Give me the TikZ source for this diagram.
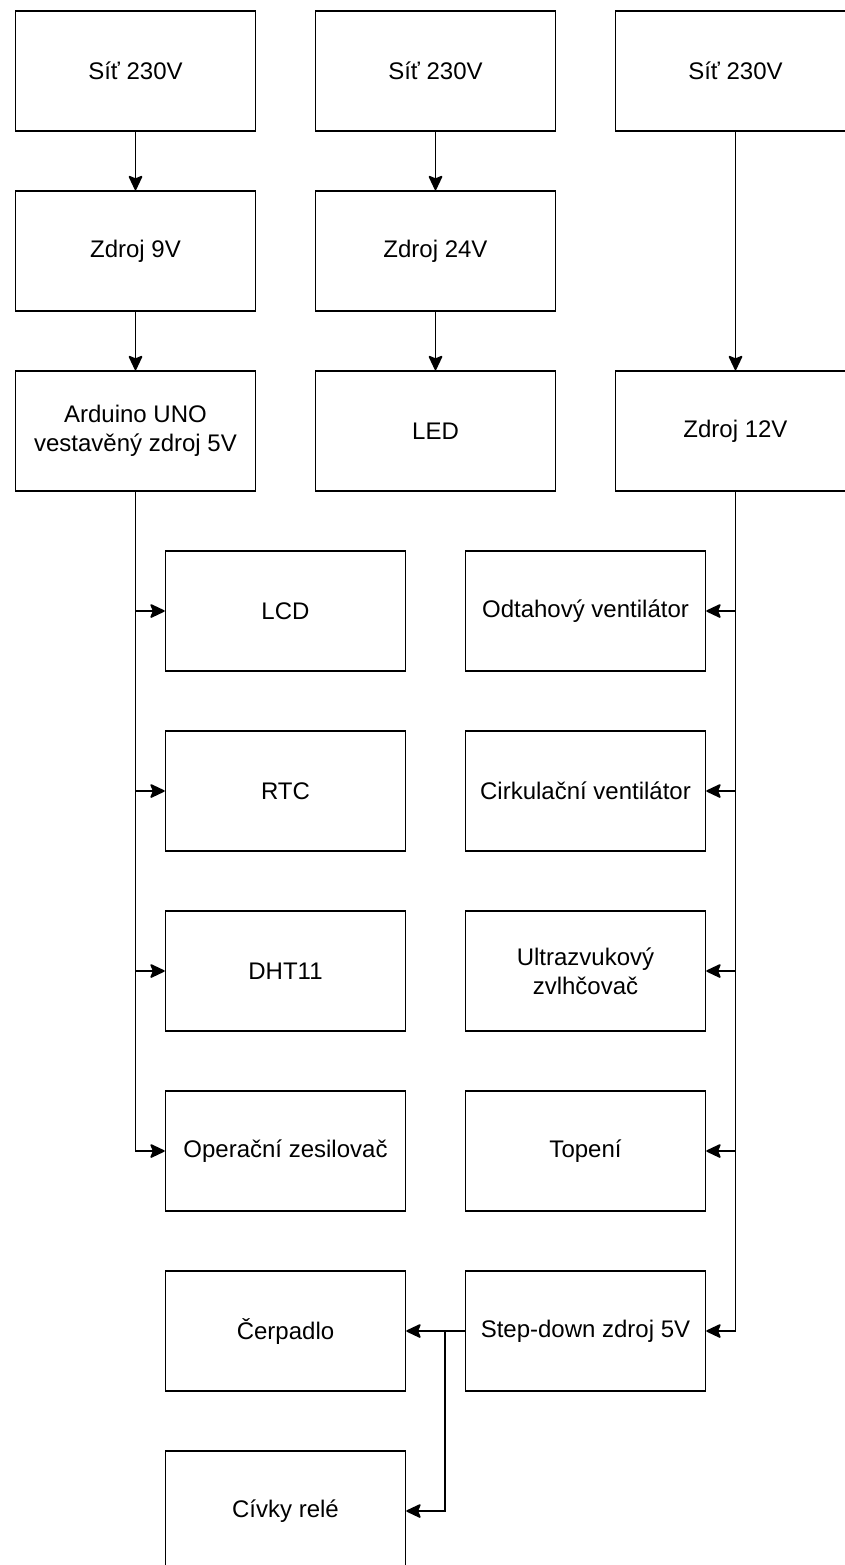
\documentclass[tikz,border=0pt]{standalone}
\usepackage{fontspec}
\setmainfont{Liberation Sans}
\usetikzlibrary{arrows.meta}
\begin{document}
\begin{tikzpicture}[x=1pt,y=-1pt,
  blk/.style={draw=black, line width=1.6pt, minimum width=240pt, minimum height=120pt,
    inner sep=0pt, align=center, font=\fontsize{24}{29}\selectfont},
  conn/.style={line width=1.6pt, -{Stealth[length=16pt,width=15pt,inset=3pt,round]}}]
\useasboundingbox (0,0) rectangle (844,1565);
\fill[white] (0,0) rectangle (844,1565);
% top rows
\node[blk] (s1) at (135.5,71) {Síť 230V};
\node[blk] (s2) at (435.5,71) {Síť 230V};
\node[blk] (s3) at (735.5,71) {Síť 230V};
\node[blk] (z9) at (135.5,251) {Zdroj 9V};
\node[blk] (z24) at (435.5,251) {Zdroj 24V};
\node[blk] (ard) at (135.5,431) {Arduino UNO\\vestavěný zdroj 5V};
\node[blk] (led) at (435.5,431) {LED};
\node[blk] (z12) at (735.5,431) {Zdroj 12V};
% left column
\node[blk] (lcd) at (285.5,611) {LCD};
\node[blk] (rtc) at (285.5,791) {RTC};
\node[blk] (dht) at (285.5,971) {DHT11};
\node[blk] (op) at (285.5,1151) {Operační zesilovač};
\node[blk] (cer) at (285.5,1331) {Čerpadlo};
\node[blk] (civ) at (285.5,1511) {Cívky relé};
% right column
\node[blk] (odt) at (585.5,611) {Odtahový ventilátor};
\node[blk] (cir) at (585.5,791) {Cirkulační ventilátor};
\node[blk] (ult) at (585.5,971) {Ultrazvukový\\zvlhčovač};
\node[blk] (top) at (585.5,1151) {Topení};
\node[blk] (sd) at (585.5,1331) {Step-down zdroj 5V};
% connectors
\draw[conn] (s1) -- (z9);
\draw[conn] (z9) -- (ard);
\draw[conn] (s2) -- (z24);
\draw[conn] (z24) -- (led);
\draw[conn] (s3) -- (z12);
\draw[conn] (ard.south) |- (lcd.west);
\draw[conn] (ard.south) |- (rtc.west);
\draw[conn] (ard.south) |- (dht.west);
\draw[conn] (ard.south) |- (op.west);
\draw[conn] (z12.south) |- (odt.east);
\draw[conn] (z12.south) |- (cir.east);
\draw[conn] (z12.south) |- (ult.east);
\draw[conn] (z12.south) |- (top.east);
\draw[conn] (z12.south) |- (sd.east);
\draw[conn] (sd.west) -- (cer.east);
\coordinate (br) at ([xshift=-20pt]sd.west);
\draw[conn] (br) |- (civ.east);
\end{tikzpicture}
\end{document}
